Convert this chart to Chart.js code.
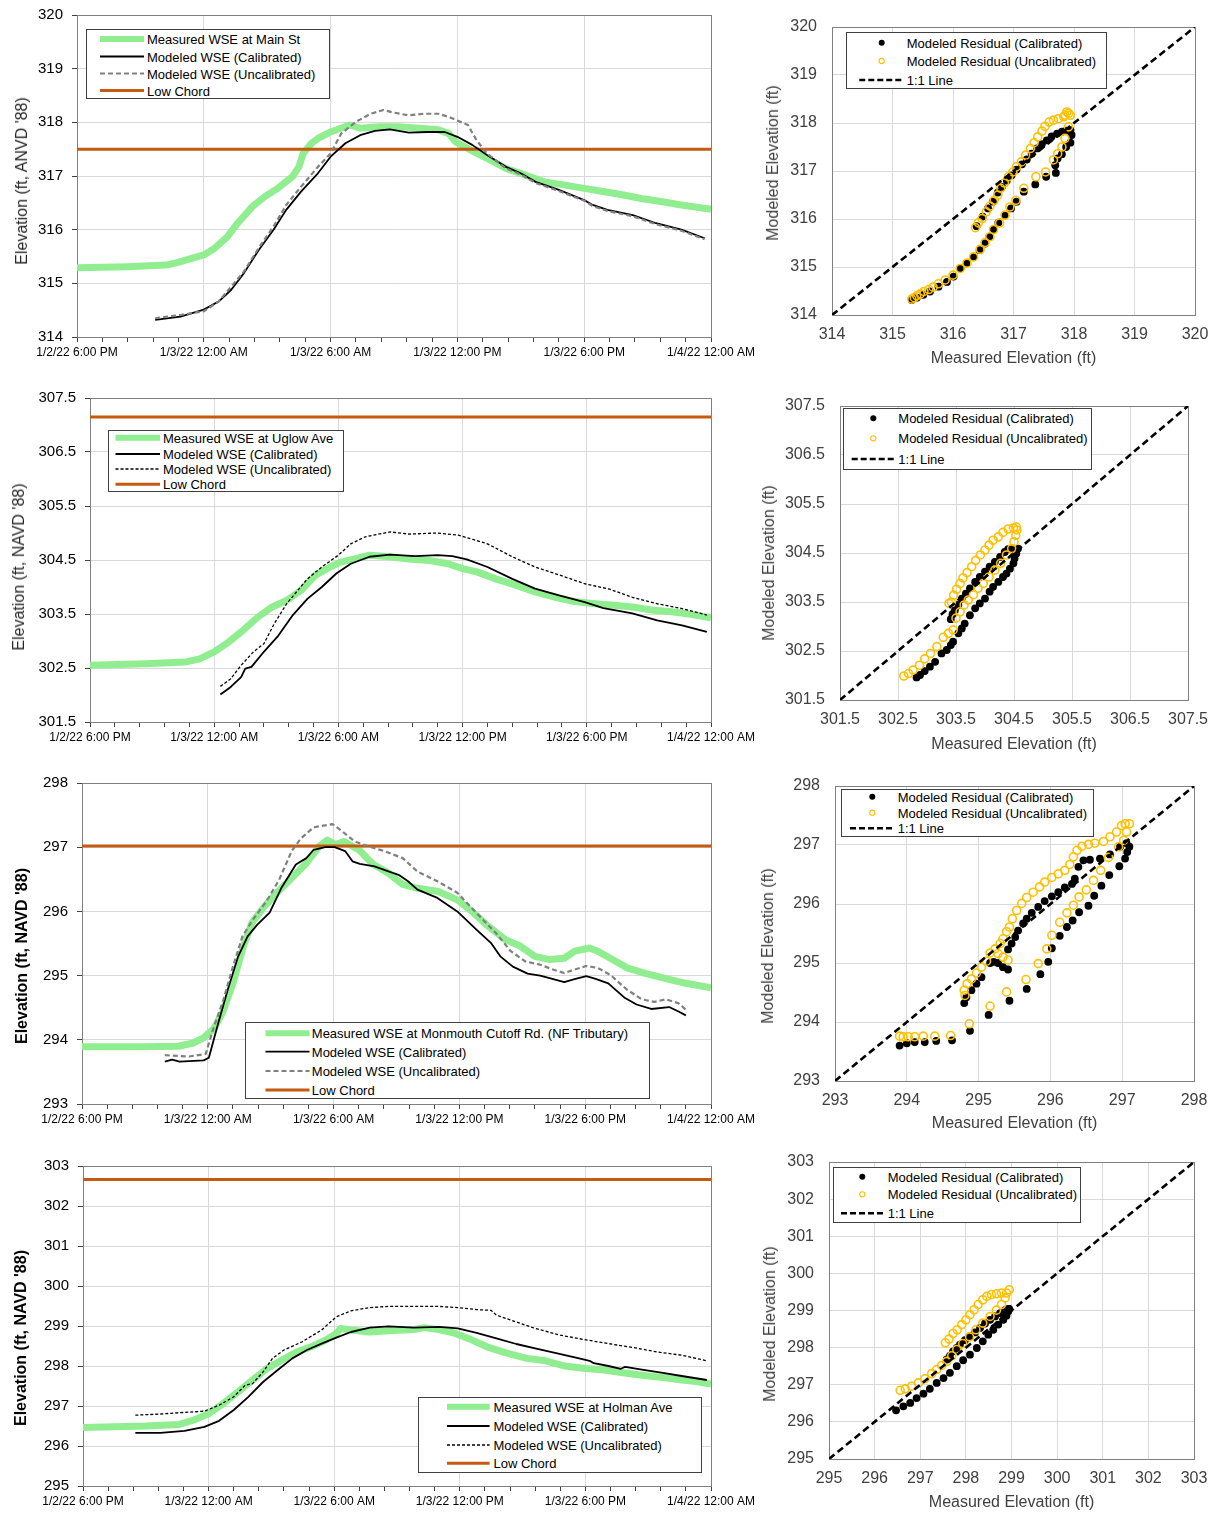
<!DOCTYPE html>
<html><head><meta charset="utf-8">
<script src="https://cdn.jsdelivr.net/npm/chart.js@4.4.1/dist/chart.umd.min.js"></script>
<style>
html,body{margin:0;padding:0;background:#fff;}
#root{position:relative;width:1212px;height:1514px;overflow:hidden;font-family:"Liberation Sans",Arial,sans-serif;}
.cv{position:absolute;}
.ytitle{position:absolute;white-space:nowrap;transform:translate(-50%,-50%) rotate(-90deg);line-height:1;}
.lg{position:absolute;border:1px solid #404040;background:#fff;box-sizing:border-box;}
.lgt{position:absolute;white-space:nowrap;font-size:13px;line-height:13px;transform:translateY(-50%);color:#000;}
</style></head><body><div id="root"></div>
<script>
// ---------- shared axis text ----------
const TIME_LABELS = ['1/2/22 6:00 PM','1/3/22 12:00 AM','1/3/22 6:00 AM','1/3/22 12:00 PM','1/3/22 6:00 PM','1/4/22 12:00 AM'];
const TIME_MIN = 0, TIME_MAX = 30, TIME_MAJOR = 6, TIME_MINOR = 1.2; // hours since 1/2/22 6:00 PM
const TS_LABELS_COMMON = ['Modeled WSE (Calibrated)','Modeled WSE (Uncalibrated)','Low Chord'];
const SC_LABELS = ['Modeled Residual (Calibrated)','Modeled Residual (Uncalibrated)','1:1 Line'];
const SC_XTITLE = 'Measured Elevation (ft)', SC_YTITLE = 'Modeled Elevation (ft)';

// ---------- Panel 1: Main St ----------
const p1Name = 'Measured WSE at Main St';
const p1YTitle = "Elevation (ft, ANVD '88)";
const p1YTicks = [314,315,316,317,318,319,320];
const p1LowChord = 317.5;
const p1MeasT = [0,2.4,4.2,4.7,5.3,6.0,6.5,7.1,7.6,8.3,8.9,9.5,10.2,10.5,10.7,11.1,11.4,12.0,12.9,13.4,14.3,15.2,16.2,17.1,17.6,17.9,18.5,19.4,20.3,21.2,22.1,23.1,24.0,24.9,25.8,26.7,27.7,28.6,30.0];
const p1Meas = [315.29,315.31,315.34,315.38,315.45,315.53,315.65,315.86,316.12,316.43,316.62,316.77,316.99,317.17,317.42,317.61,317.70,317.82,317.95,317.89,317.92,317.92,317.89,317.86,317.79,317.64,317.51,317.33,317.14,317.02,316.89,316.83,316.77,316.71,316.65,316.58,316.52,316.46,316.38];
const p1CalT = [3.7,4.9,6.0,6.7,7.3,7.9,8.6,9.3,9.9,10.6,11.4,12.0,12.7,13.4,14.1,14.8,15.7,16.6,17.4,18.0,18.7,19.4,20.3,21.0,21.7,22.8,24.0,24.4,25.1,26.3,27.4,28.6,29.7];
const p1Cal = [314.32,314.38,314.51,314.66,314.88,315.19,315.62,316.00,316.37,316.71,317.05,317.36,317.61,317.76,317.84,317.87,317.81,317.82,317.82,317.73,317.58,317.39,317.17,317.05,316.89,316.74,316.55,316.46,316.37,316.27,316.12,316.00,315.84];
const p1UncT = [3.7,4.9,6.0,6.7,7.9,8.6,9.3,9.9,10.6,11.4,12.0,12.5,13.2,13.9,14.5,15.0,15.7,16.4,17.1,17.6,18.5,18.9,19.4,20.3,21.0,21.7,22.8,24.0,24.4,25.1,26.3,27.4,28.6,29.7];
const p1Unc = [314.35,314.41,314.48,314.66,315.22,315.66,316.06,316.46,316.80,317.17,317.42,317.79,318.01,318.16,318.23,318.18,318.13,318.16,318.16,318.10,317.95,317.67,317.42,317.14,317.03,316.87,316.72,316.54,316.44,316.35,316.25,316.10,315.98,315.82];
// scatter 1
const s1Ticks = [314,315,316,317,318,319,320];
const s1CalM = [315.32,315.40,315.51,315.62,315.76,315.90,316.01,316.12,316.23,316.34,316.44,316.53,316.60,316.67,316.75,316.86,316.96,317.05,317.17,317.36,317.54,317.70,317.69,317.73,317.80,317.87,317.94,317.96,317.94,317.87,317.80,317.72,317.63,317.55,317.47,317.39,317.30,317.22,317.14,317.05,316.97,316.89,316.81,316.74,316.66,316.58,316.49,316.39];
const s1CalV = [314.31,314.36,314.42,314.49,314.59,314.69,314.80,314.97,315.08,315.21,315.35,315.49,315.63,315.78,315.92,316.08,316.22,316.36,316.57,316.72,316.88,316.96,317.12,317.26,317.35,317.50,317.59,317.75,317.85,317.84,317.82,317.78,317.72,317.64,317.56,317.47,317.36,317.24,317.14,317.03,316.91,316.80,316.67,316.55,316.36,316.22,316.05,315.85];
const s1UncM = [315.32,315.36,315.40,315.46,315.52,315.60,315.67,315.76,315.87,316.00,316.12,316.23,316.34,316.45,316.53,316.61,316.67,316.77,316.86,316.94,317.04,317.17,317.37,317.53,317.66,317.73,317.80,317.85,317.91,317.94,317.91,317.88,317.85,317.83,317.74,317.66,317.59,317.52,317.47,317.40,317.34,317.28,317.20,317.13,317.05,316.99,316.92,316.85,316.79,316.74,316.68,316.61,316.55,316.48,316.42,316.37];
const s1UncV = [314.33,314.36,314.40,314.44,314.49,314.53,314.58,314.65,314.73,314.83,314.97,315.08,315.21,315.37,315.51,315.63,315.78,315.92,316.08,316.25,316.39,316.64,316.88,316.98,317.23,317.36,317.50,317.68,317.92,318.16,318.20,318.23,318.16,318.13,318.09,318.06,318.02,317.93,317.83,317.71,317.59,317.47,317.33,317.19,317.09,316.98,316.88,316.75,316.64,316.50,316.39,316.27,316.15,316.01,315.92,315.82];

// ---------- Panel 2: Uglow Ave ----------
const p2Name = 'Measured WSE at Uglow Ave';
const p2YTitle = "Elevation (ft, NAVD '88)";
const p2YTicks = [301.5,302.5,303.5,304.5,305.5,306.5,307.5];
const p2LowChord = 307.15;
const p2MeasT = [0,2.7,4.6,5.3,6.0,6.7,7.4,8.1,8.8,9.5,10.2,10.9,11.6,12.1,12.8,13.5,14.5,15.4,16.4,17.3,18.0,18.7,19.6,20.6,21.5,22.5,23.4,24.4,25.3,26.2,27.2,28.1,29.1,30.0];
const p2Meas = [302.55,302.58,302.61,302.67,302.80,302.98,303.20,303.44,303.63,303.75,303.94,304.22,304.37,304.46,304.52,304.59,304.56,304.52,304.49,304.43,304.34,304.28,304.15,304.03,303.91,303.81,303.73,303.69,303.66,303.63,303.57,303.54,303.49,303.43];
const p2CalT = [6.3,6.8,7.3,7.5,7.8,8.4,9.1,9.8,10.5,11.2,11.9,12.6,13.5,14.5,15.7,16.8,17.5,18.2,19.2,20.4,21.5,22.7,23.9,24.8,26.2,27.4,28.6,29.8];
const p2Cal = [302.01,302.15,302.33,302.49,302.52,302.80,303.10,303.48,303.78,304.00,304.25,304.43,304.56,304.60,304.57,304.59,304.57,304.51,304.37,304.15,303.97,303.84,303.72,303.61,303.51,303.38,303.29,303.17];
const p2UncT = [6.3,6.8,7.3,7.9,8.4,8.9,9.5,10.5,11.2,12.0,12.6,13.3,14.5,15.4,16.8,17.8,18.5,19.2,20.4,21.5,22.7,23.9,25.1,26.2,27.4,28.6,29.8];
const p2Unc = [302.16,302.30,302.55,302.80,302.95,303.32,303.69,304.15,304.37,304.59,304.80,304.93,305.02,304.98,305.00,304.96,304.88,304.80,304.56,304.37,304.22,304.06,303.96,303.81,303.69,303.60,303.48];
// scatter 2
const s2Ticks = [301.5,302.5,303.5,304.5,305.5,306.5,307.5];
const s2CalM = [302.82,302.88,302.96,303.05,303.14,303.25,303.34,303.41,303.45,303.54,303.60,303.65,303.74,303.83,303.91,304.00,304.08,304.14,304.23,304.31,304.37,304.43,304.49,304.51,304.54,304.57,304.49,304.40,304.34,304.26,304.17,304.08,304.00,303.91,303.83,303.74,303.67,303.60,303.54,303.48,303.44,303.41];
const s2CalV = [301.96,302.01,302.09,302.18,302.28,302.45,302.52,302.62,302.69,302.86,302.96,303.06,303.23,303.37,303.47,303.57,303.71,303.81,303.91,304.01,304.08,304.18,304.29,304.39,304.49,304.59,304.59,304.58,304.52,304.42,304.32,304.22,304.12,304.01,303.91,303.78,303.67,303.57,303.44,303.33,303.25,303.15];
const s2UncM = [302.60,302.68,302.76,302.87,302.96,303.06,303.17,303.28,303.37,303.45,303.50,303.57,303.64,303.71,303.80,303.88,303.97,304.07,304.17,304.27,304.37,304.46,304.50,304.53,304.55,304.54,304.49,304.40,304.31,304.23,304.14,304.07,304.00,303.92,303.84,303.77,303.69,303.62,303.57,303.51,303.46,303.42,303.38];
const s2UncV = [301.99,302.04,302.11,302.21,302.34,302.45,302.59,302.78,302.86,302.93,303.17,303.30,303.44,303.54,303.65,303.78,303.88,304.01,304.15,304.29,304.46,304.59,304.73,304.86,304.97,305.03,305.01,304.99,304.92,304.83,304.76,304.66,304.56,304.46,304.35,304.22,304.10,303.99,303.88,303.76,303.64,303.50,303.47];

// ---------- Panel 3: Monmouth Cutoff Rd ----------
const p3Name = 'Measured WSE at Monmouth Cutoff Rd. (NF Tributary)';
const p3YTitle = "Elevation (ft, NAVD '88)";
const p3YTicks = [293,294,295,296,297,298];
const p3LowChord = 297.02;
const p3MeasT = [0,3.0,4.6,5.3,5.8,6.3,6.7,7.2,7.7,8.1,8.7,9.3,10.0,10.7,11.3,11.7,12.1,12.5,13.2,13.9,14.6,15.3,16.0,17.0,17.9,18.6,19.3,20.2,20.9,21.6,22.3,23.0,23.5,24.2,24.6,25.3,26.0,26.9,27.9,28.8,30.0];
const p3Meas = [293.89,293.89,293.90,293.95,294.03,294.18,294.42,294.88,295.46,295.82,296.08,296.29,296.52,296.75,297.01,297.11,297.04,297.09,296.96,296.73,296.60,296.42,296.36,296.31,296.18,296.00,295.79,295.56,295.46,295.30,295.25,295.27,295.38,295.43,295.38,295.25,295.12,295.03,294.95,294.88,294.81];
const p3CalT = [3.95,4.3,4.65,5.8,6.05,6.5,6.95,7.45,7.9,8.35,8.95,9.5,10.2,10.7,11.05,11.6,12.05,12.55,12.9,13.25,13.95,14.65,15.1,15.55,16.0,16.95,17.9,18.8,19.5,19.95,20.55,21.25,21.85,22.3,23.0,23.45,24.05,24.5,25.1,25.9,26.45,27.15,28.0,28.45,28.8];
const p3Cal = [293.66,293.69,293.66,293.68,293.72,294.26,294.78,295.30,295.61,295.79,295.98,296.36,296.73,296.83,296.96,297.00,297.00,296.94,296.78,296.74,296.70,296.62,296.57,296.47,296.34,296.21,296.00,295.72,295.51,295.30,295.14,295.03,295.00,294.96,294.90,294.94,294.99,294.95,294.88,294.65,294.55,294.48,294.51,294.44,294.38];
const p3UncT = [3.95,5.1,5.9,6.25,6.75,7.2,7.65,8.15,8.8,9.4,10.0,10.45,11.05,11.95,12.4,13.0,13.7,14.4,15.3,16.0,16.95,17.9,18.8,19.75,20.45,21.15,21.85,22.5,23.0,23.45,24.05,24.6,25.2,26.0,26.7,27.3,27.85,28.45,28.8];
const p3Unc = [293.76,293.74,293.78,294.16,294.63,295.14,295.61,295.87,296.16,296.49,296.94,297.14,297.31,297.36,297.25,297.09,297.01,296.94,296.83,296.62,296.47,296.29,295.98,295.66,295.38,295.22,295.17,295.09,295.04,295.09,295.15,295.12,295.01,294.78,294.63,294.59,294.63,294.57,294.47];
// scatter 3
const s3Ticks = [293,294,295,296,297,298];
const s3CalM = [293.90,294.00,294.11,294.25,294.41,294.63,294.88,295.14,295.43,295.67,295.86,295.97,296.02,296.13,296.23,296.31,296.40,296.53,296.61,296.71,296.82,296.96,297.04,297.07,297.10,297.06,296.97,296.83,296.69,296.55,296.46,296.39,296.34,296.30,296.20,296.11,296.02,295.92,295.83,295.74,295.67,295.62,295.55,295.51,295.46,295.41,295.41,295.34,295.27,295.21,295.16,295.04,294.97,294.90,294.83,294.80];
const s3CalV = [293.60,293.64,293.66,293.66,293.68,293.69,293.85,294.12,294.36,294.56,294.81,295.02,295.25,295.46,295.61,295.72,295.86,295.97,296.14,296.31,296.49,296.64,296.77,296.88,296.97,297.03,296.97,296.84,296.77,296.75,296.74,296.63,296.43,296.34,296.28,296.20,296.13,296.05,295.95,295.85,295.75,295.67,295.55,295.44,295.33,295.23,294.89,294.93,295.00,295.02,295.00,294.76,294.65,294.54,294.42,294.32];
const s3UncM = [293.90,293.95,294.02,294.11,294.23,294.39,294.61,294.87,295.16,295.39,295.66,295.83,295.95,296.02,296.13,296.23,296.32,296.40,296.50,296.60,296.70,296.81,296.95,297.02,297.06,297.10,297.04,296.99,296.92,296.83,296.74,296.62,296.53,296.44,296.37,296.32,296.27,296.20,296.11,296.02,295.92,295.85,295.76,295.67,295.60,295.53,295.47,295.43,295.39,295.34,295.30,295.23,295.16,295.27,295.34,295.41,295.11,295.04,294.97,294.90,294.84,294.80,294.81];
const s3UncV = [293.76,293.75,293.75,293.75,293.76,293.76,293.77,293.97,294.27,294.51,294.72,294.99,295.24,295.47,295.69,295.85,295.98,296.12,296.24,296.40,296.57,296.79,296.97,297.08,297.22,297.36,297.36,297.33,297.22,297.14,297.06,297.03,297.01,296.98,296.91,296.80,296.67,296.57,296.51,296.45,296.37,296.29,296.20,296.11,296.01,295.89,295.75,295.61,295.53,295.41,295.33,295.24,295.17,295.16,295.10,295.05,295.03,294.93,294.83,294.73,294.65,294.54,294.45];

// ---------- Panel 4: Holman Ave ----------
const p4Name = 'Measured WSE at Holman Ave';
const p4YTitle = "Elevation (ft, NAVD '88)";
const p4YTicks = [295,296,297,298,299,300,301,302,303];
const p4LowChord = 302.66;
const p4MeasT = [0,3.0,4.6,5.3,6.0,6.7,7.4,8.1,8.8,9.5,10.2,10.9,11.6,12.1,12.3,12.8,13.7,14.6,15.8,16.3,17.0,17.7,18.4,19.3,20.2,21.2,22.1,23.0,24.0,24.9,25.8,26.7,27.7,28.6,29.3,30.0];
const p4Meas = [296.46,296.50,296.54,296.65,296.81,297.06,297.35,297.65,297.94,298.15,298.35,298.48,298.65,298.81,298.94,298.90,298.85,298.88,298.91,298.96,298.91,298.83,298.69,298.48,298.33,298.19,298.13,298.00,297.94,297.90,297.83,297.77,297.71,297.65,297.61,297.55];
const p4CalT = [2.5,3.7,4.85,5.8,6.5,7.2,7.9,8.6,9.3,10.0,10.7,11.4,12.1,12.8,13.7,14.6,15.8,17.0,17.9,18.8,19.75,20.7,21.6,22.55,23.7,24.2,24.4,25.1,25.7,25.9,26.7,27.7,28.6,29.8];
const p4Cal = [296.33,296.33,296.38,296.48,296.63,296.90,297.23,297.60,297.90,298.19,298.40,298.56,298.71,298.85,298.96,298.99,298.96,298.98,298.94,298.83,298.69,298.55,298.44,298.33,298.19,298.13,298.07,298.00,297.93,297.98,297.91,297.83,297.75,297.65];
const p4UncT = [2.5,3.7,4.85,5.8,6.5,7.2,7.75,8.1,8.6,9.05,9.6,10.45,11.4,12.1,12.8,13.7,14.6,15.8,17.0,17.9,18.8,19.5,19.75,20.7,21.6,22.8,23.95,25.1,26.3,27.45,28.6,29.8];
const p4Unc = [296.77,296.80,296.84,296.87,297.02,297.23,297.52,297.56,297.85,298.19,298.40,298.60,298.90,299.23,299.38,299.46,299.49,299.49,299.49,299.46,299.41,299.39,299.27,299.10,298.94,298.77,298.66,298.56,298.46,298.35,298.27,298.13];
// scatter 4
const s4Ticks = [295,296,297,298,299,300,301,302,303];
const s4CalM = [296.47,296.63,296.78,296.92,297.07,297.21,297.36,297.51,297.65,297.80,297.94,298.09,298.24,298.37,298.49,298.60,298.71,298.82,298.89,298.93,298.95,298.93,298.86,298.75,298.64,298.53,298.42,298.31,298.20,298.09,297.98,297.87,297.80,297.72,297.65,297.58];
const s4CalV = [296.31,296.42,296.51,296.64,296.76,296.89,297.05,297.18,297.32,297.50,297.66,297.81,297.99,298.17,298.35,298.48,298.62,298.75,298.86,298.98,299.04,299.04,299.01,298.93,298.84,298.75,298.65,298.53,298.41,298.31,298.20,298.08,297.99,297.90,297.78,297.68];
const s4UncM = [296.56,296.67,296.81,296.96,297.10,297.25,297.36,297.47,297.58,297.69,297.80,297.93,298.08,298.22,298.37,298.53,298.67,298.78,298.86,298.89,298.95,298.78,298.67,298.56,298.46,298.37,298.27,298.18,298.09,298.00,297.91,297.81,297.72,297.63,297.55];
const s4UncV = [296.85,296.89,296.96,297.05,297.16,297.30,297.41,297.52,297.63,297.78,297.95,298.11,298.29,298.48,298.66,298.84,299.01,299.16,299.34,299.47,299.56,299.47,299.45,299.43,299.38,299.29,299.16,299.02,298.89,298.75,298.62,298.48,298.38,298.23,298.13];

// ---------- styles ----------
const GREEN = '#90EE90', CHORD = '#C55A11', GOLD = '#FFC000', GRID = '#D9D9D9';
Chart.defaults.font.family = '"Liberation Sans", Arial, sans-serif';
const root = document.getElementById('root');
const pts = (xs, ys) => xs.map((x, i) => ({x: x, y: ys[i]}));

function addCanvas(r) {
  const c = document.createElement('canvas');
  c.width = r.w; c.height = r.h; c.className = 'cv';
  Object.assign(c.style, {left: r.x + 'px', top: r.y + 'px', width: r.w + 'px', height: r.h + 'px'});
  root.appendChild(c);
  return c;
}
const plotBorder = {
  id: 'plotBorder',
  beforeDatasetsDraw(chart, args, opts) {
    const a = chart.chartArea, c = chart.ctx;
    const l = Math.round(a.left), t = Math.round(a.top), r = Math.round(a.right), b = Math.round(a.bottom);
    c.save(); c.strokeStyle = opts.color || '#808080'; c.lineWidth = 1;
    c.strokeRect(l + 0.5, t + 0.5, r - l, b - t); c.restore();
  }
};
function noPad(s) { s.paddingTop = 0; s.paddingBottom = 0; s.paddingLeft = 0; s.paddingRight = 0; }
const minorTicks = [];
for (let k = 0; k * TIME_MINOR <= TIME_MAX + 1e-9; k++) minorTicks.push(Math.round(k * TIME_MINOR * 1000) / 1000);
const isMajor = v => Math.abs(v / TIME_MAJOR - Math.round(v / TIME_MAJOR)) < 1e-6;

function yTitle(text, cx, cy, size, bold, color) {
  const d = document.createElement('div'); d.className = 'ytitle'; d.textContent = text;
  Object.assign(d.style, {left: cx + 'px', top: cy + 'px', fontSize: size + 'px', fontWeight: bold ? 'bold' : 'normal', color: color});
  root.appendChild(d);
}

function tsChart(c) {
  const r = c.rect, a = c.area;
  const ds = [
    {label: c.labels[0], data: pts(c.measT, c.meas), borderColor: GREEN, borderWidth: 7, order: 3},
    {label: c.labels[3], data: [{x: TIME_MIN, y: c.chord}, {x: TIME_MAX, y: c.chord}], borderColor: CHORD, borderWidth: 3, order: 2},
    {label: c.labels[1], data: pts(c.calT, c.cal), borderColor: '#000', borderWidth: 1.8, order: 1},
    {label: c.labels[2], data: pts(c.uncT, c.unc), borderColor: c.uncColor, borderWidth: c.uncWidth, borderDash: c.uncDash, order: 0}
  ].map(d => Object.assign({showLine: true, pointRadius: 0, pointHoverRadius: 0, tension: 0, fill: false, borderJoinStyle: 'round'}, d));
  new Chart(addCanvas(r), {
    type: 'scatter', data: {datasets: ds}, plugins: [plotBorder],
    options: {
      responsive: false, animation: false, events: [], devicePixelRatio: 1,
      layout: {autoPadding: false, padding: {left: 0, top: a.t - r.y, right: r.x + r.w - a.r, bottom: 0}},
      plugins: {legend: {display: false}, tooltip: {enabled: false}, plotBorder: {color: '#808080'}},
      scales: {
        x: {type: 'linear', min: TIME_MIN, max: TIME_MAX,
          afterBuildTicks: s => { s.ticks = minorTicks.map(v => ({value: v})); },
          afterFit: s => { s.height = r.y + r.h - a.b; noPad(s); },
          ticks: {autoSkip: false, maxRotation: 0, minRotation: 0, padding: 3, color: '#000', font: {size: 12},
            callback: v => isMajor(v) ? TIME_LABELS[Math.round(v / TIME_MAJOR)] : ''},
          grid: {color: ctx => (ctx.tick && isMajor(ctx.tick.value) && ctx.tick.value > TIME_MIN && ctx.tick.value < TIME_MAX) ? GRID : 'rgba(0,0,0,0)',
            tickColor: '#404040', tickLength: 5, lineWidth: 1},
          border: {display: true, color: c.xAxisColor}
        },
        y: {type: 'linear', min: c.yTicks[0], max: c.yTicks[c.yTicks.length - 1],
          afterBuildTicks: s => { s.ticks = c.yTicks.map(v => ({value: v})); },
          afterFit: s => { s.width = a.l - r.x; noPad(s); },
          ticks: {padding: 9, color: '#000', font: {size: 15}, callback: v => v.toFixed(c.dec)},
          grid: {color: GRID, tickColor: '#404040', tickLength: 5, lineWidth: 1},
          border: {display: true, color: c.yAxisColor}
        }
      }
    }
  });
  yTitle(c.yTitle, c.yt[0], c.yt[1], 16, c.bold, c.bold ? '#000' : '#262626');
}

function scChart(c) {
  const r = c.rect, a = c.area, t0 = c.ticks[0], t1 = c.ticks[c.ticks.length - 1];
  const ds = [
    {label: SC_LABELS[2], data: [{x: t0, y: t0}, {x: t1, y: t1}], showLine: true, borderColor: '#000', borderWidth: 2.6, borderDash: [7, 4], pointRadius: 0, order: 0},
    {label: SC_LABELS[1], data: pts(c.uncM, c.uncV), showLine: false, pointRadius: 4, pointBorderWidth: 1.6, pointBorderColor: GOLD, pointBackgroundColor: 'rgba(0,0,0,0)', order: 1},
    {label: SC_LABELS[0], data: pts(c.calM, c.calV), showLine: false, pointRadius: 3.9, pointBorderWidth: 0, pointBorderColor: '#000', pointBackgroundColor: '#000', order: 2}
  ].map(d => Object.assign({pointHoverRadius: 0, fill: false}, d));
  const axis = (isX) => ({
    type: 'linear', min: t0, max: t1,
    afterBuildTicks: s => { s.ticks = c.ticks.map(v => ({value: v})); },
    afterFit: isX ? (s => { s.height = r.y + r.h - a.b; noPad(s); }) : (s => { s.width = a.l - r.x; noPad(s); }),
    ticks: {padding: isX ? 10 : 15, color: '#404040', font: {size: 16}, maxRotation: 0, autoSkip: false, callback: v => v.toFixed(c.dec)},
    grid: {color: GRID, drawTicks: false, lineWidth: 1},
    border: {display: true, color: '#808080'},
    title: isX ? {display: true, text: SC_XTITLE, color: '#404040', font: {size: 16}, padding: {top: 0, bottom: c.xtPad}} : {display: false}
  });
  new Chart(addCanvas(r), {
    type: 'scatter', data: {datasets: ds}, plugins: [plotBorder],
    options: {
      responsive: false, animation: false, events: [], devicePixelRatio: 1,
      layout: {autoPadding: false, padding: {left: 0, top: a.t - r.y, right: r.x + r.w - a.r, bottom: 0}},
      plugins: {legend: {display: false}, tooltip: {enabled: false}, plotBorder: {color: '#808080'}},
      scales: {x: axis(true), y: axis(false)}
    }
  });
  yTitle(SC_YTITLE, c.yt[0], c.yt[1], 16, false, '#404040');
}

// ---------- build charts ----------
tsChart({rect: {x: 0, y: 0, w: 760, h: 372}, area: {l: 77, t: 15, r: 711, b: 337}, labels: [p1Name].concat(TS_LABELS_COMMON),
  measT: p1MeasT, meas: p1Meas, calT: p1CalT, cal: p1Cal, uncT: p1UncT, unc: p1Unc, chord: p1LowChord, yTicks: p1YTicks, dec: 0,
  uncColor: '#808080', uncWidth: 2.2, uncDash: [5, 3], xAxisColor: '#595959', yAxisColor: '#808080', yTitle: p1YTitle, yt: [22, 181], bold: false});
tsChart({rect: {x: 0, y: 385, w: 760, h: 372}, area: {l: 90, t: 398, r: 711, b: 722}, labels: [p2Name].concat(TS_LABELS_COMMON),
  measT: p2MeasT, meas: p2Meas, calT: p2CalT, cal: p2Cal, uncT: p2UncT, unc: p2Unc, chord: p2LowChord, yTicks: p2YTicks, dec: 1,
  uncColor: '#000', uncWidth: 1.3, uncDash: [3, 2], xAxisColor: '#404040', yAxisColor: '#000', yTitle: p2YTitle, yt: [19, 567], bold: false});
tsChart({rect: {x: 0, y: 770, w: 760, h: 370}, area: {l: 82, t: 783, r: 711, b: 1104}, labels: [p3Name].concat(TS_LABELS_COMMON),
  measT: p3MeasT, meas: p3Meas, calT: p3CalT, cal: p3Cal, uncT: p3UncT, unc: p3Unc, chord: p3LowChord, yTicks: p3YTicks, dec: 0,
  uncColor: '#808080', uncWidth: 2.2, uncDash: [5, 3], xAxisColor: '#404040', yAxisColor: '#000', yTitle: p3YTitle, yt: [22, 956], bold: true});
tsChart({rect: {x: 0, y: 1150, w: 760, h: 364}, area: {l: 83, t: 1166, r: 711, b: 1486}, labels: [p4Name].concat(TS_LABELS_COMMON),
  measT: p4MeasT, meas: p4Meas, calT: p4CalT, cal: p4Cal, uncT: p4UncT, unc: p4Unc, chord: p4LowChord, yTicks: p4YTicks, dec: 0,
  uncColor: '#000', uncWidth: 1.3, uncDash: [3, 2], xAxisColor: '#404040', yAxisColor: '#000', yTitle: p4YTitle, yt: [20.5, 1338], bold: true});

scChart({rect: {x: 760, y: 0, w: 452, h: 372}, area: {l: 832, t: 27, r: 1195, b: 315}, ticks: s1Ticks, dec: 0,
  calM: s1CalM, calV: s1CalV, uncM: s1UncM, uncV: s1UncV, xtPad: 4, yt: [772.5, 163]});
scChart({rect: {x: 760, y: 385, w: 452, h: 372}, area: {l: 840, t: 406, r: 1188, b: 700}, ticks: s2Ticks, dec: 1,
  calM: s2CalM, calV: s2CalV, uncM: s2UncM, uncV: s2UncV, xtPad: 3, yt: [768.5, 563]});
scChart({rect: {x: 760, y: 770, w: 452, h: 370}, area: {l: 835, t: 786, r: 1194, b: 1081}, ticks: s3Ticks, dec: 0,
  calM: s3CalM, calV: s3CalV, uncM: s3UncM, uncV: s3UncV, xtPad: 6.5, yt: [767.5, 946]});
scChart({rect: {x: 760, y: 1150, w: 452, h: 364}, area: {l: 829, t: 1162, r: 1194, b: 1459}, ticks: s4Ticks, dec: 0,
  calM: s4CalM, calV: s4CalV, uncM: s4UncM, uncV: s4UncV, xtPad: 1.5, yt: [770, 1324]});

// ---------- legends (HTML) ----------
const NS = 'http://www.w3.org/2000/svg';
const svg = document.createElementNS(NS, 'svg');
svg.setAttribute('width', 1212); svg.setAttribute('height', 1514);
Object.assign(svg.style, {position: 'absolute', left: '0', top: '0', pointerEvents: 'none'});
function box(b) {
  const d = document.createElement('div'); d.className = 'lg';
  Object.assign(d.style, {left: b[0] + 'px', top: b[1] + 'px', width: (b[2] - b[0]) + 'px', height: (b[3] - b[1]) + 'px'});
  root.appendChild(d);
}
function text(t, x, y) {
  const d = document.createElement('div'); d.className = 'lgt'; d.textContent = t;
  Object.assign(d.style, {left: x + 'px', top: y + 'px'});
  root.appendChild(d);
}
function sline(x1, x2, y, color, w, dash) {
  const l = document.createElementNS(NS, 'line');
  l.setAttribute('x1', x1); l.setAttribute('x2', x2); l.setAttribute('y1', y); l.setAttribute('y2', y);
  l.setAttribute('stroke', color); l.setAttribute('stroke-width', w);
  if (dash) l.setAttribute('stroke-dasharray', dash.join(','));
  svg.appendChild(l);
}
function sdot(x, y, fill, stroke) {
  const c = document.createElementNS(NS, 'circle');
  c.setAttribute('cx', x); c.setAttribute('cy', y); c.setAttribute('r', fill ? 3 : 2.6);
  c.setAttribute('fill', fill ? '#000' : 'none');
  if (stroke) { c.setAttribute('stroke', GOLD); c.setAttribute('stroke-width', 1.1); }
  svg.appendChild(c);
}
function tsLegend(L, name, uncColor, uncWidth, uncDash) {
  box(L.box);
  const styles = [[GREEN, 6, null], ['#000', 1.8, null], [uncColor, uncWidth, uncDash], [CHORD, 3, null]];
  const labels = [name].concat(TS_LABELS_COMMON);
  labels.forEach((lab, i) => {
    sline(L.sx[0], L.sx[1], L.rows[i], styles[i][0], styles[i][1], styles[i][2]);
    text(lab, L.tx, L.rows[i]);
  });
}
function scLegend(L) {
  box(L.box);
  sdot(L.mx, L.rows[0], true, false);
  sdot(L.mx, L.rows[1], false, true);
  sline(L.dx[0], L.dx[1], L.rows[2], '#000', 2.6, [6, 3]);
  SC_LABELS.forEach((lab, i) => text(lab, L.tx, L.rows[i]));
}
tsLegend({box: [85.5, 29, 330, 99], rows: [39, 56.5, 73.5, 90.5], sx: [100, 144], tx: 147}, p1Name, '#808080', 2.2, [5, 3]);
tsLegend({box: [108, 430, 343.5, 491.5], rows: [437.7, 454, 469, 484.3], sx: [115.5, 160], tx: 163}, p2Name, '#000', 1.3, [3, 2]);
tsLegend({box: [244.5, 1022, 649.5, 1098.5], rows: [1033.3, 1051.7, 1071, 1090], sx: [265.5, 309.5], tx: 311.8}, p3Name, '#808080', 2.2, [5, 3]);
tsLegend({box: [417.5, 1397, 702, 1472.7], rows: [1406.7, 1426, 1445, 1463.3], sx: [447, 489.6], tx: 493.5}, p4Name, '#000', 1.3, [3, 2]);
scLegend({box: [846, 32.3, 1106.7, 89.3], rows: [42.7, 61, 80], mx: 881.7, tx: 906.7, dx: [859.3, 903.3]});
scLegend({box: [843.3, 408.3, 1091.7, 470], rows: [418.3, 438.3, 459], mx: 873.3, tx: 898.3, dx: [851.7, 896]});
scLegend({box: [840.7, 789, 1094, 836.7], rows: [796.7, 812.7, 828.3], mx: 872.3, tx: 897.7, dx: [850, 895]});
scLegend({box: [833.3, 1167.3, 1080.7, 1222.7], rows: [1176.7, 1194.3, 1213.3], mx: 862.3, tx: 887.7, dx: [841, 885]});
root.appendChild(svg);
</script></body></html>
